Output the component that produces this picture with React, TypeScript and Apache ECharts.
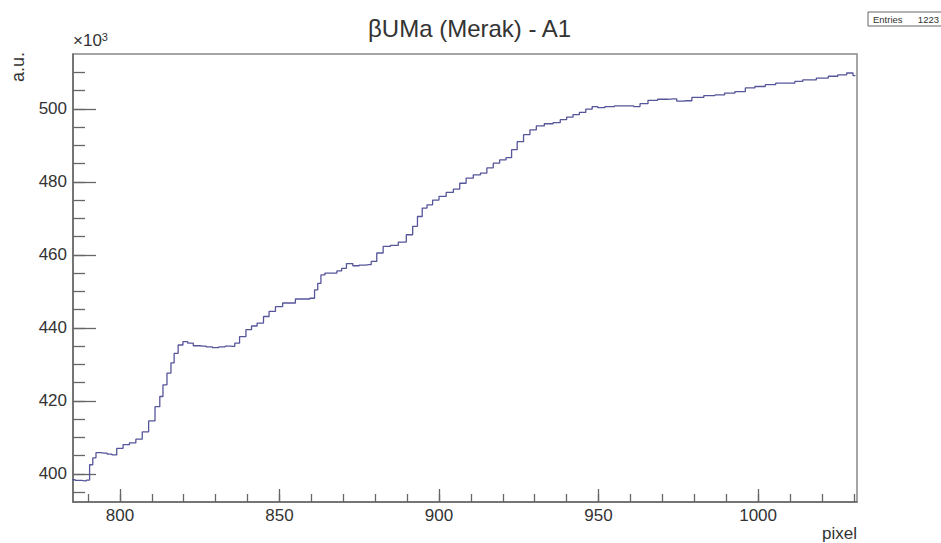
import React, { useEffect, useRef } from "react";
import * as echarts from "echarts";

// Bin positions (pixel) and counts (in units of 10^3)
const pixelX = [
  785, 787, 789, 790, 791, 792, 793, 795, 797, 798, 800, 802, 804, 806, 808, 810, 812, 813, 814, 815.5,
  816.5, 817.5, 819, 820.5, 822, 824, 826, 828, 830, 832, 834, 835.5, 836.5, 838.5, 840.5, 842, 844, 846,
  847.5, 850, 852, 854, 856, 858.5, 860.5, 861.5, 862.5, 863.5, 865, 867, 869, 870, 872, 874, 876, 878,
  879.5, 881.5, 883.5, 886, 888.5, 891, 892.5, 894, 895.5, 897, 899, 901, 903.5, 905.5, 907.5, 909.5, 912,
  914, 916, 918, 920, 922, 923.5, 925.5, 927.5, 929.5, 931.5, 934.5, 937, 939, 941, 943, 945, 947, 949,
  950.5, 953.5, 956.5, 960, 962, 964, 967, 970, 973.5, 975.5, 977.5, 981, 985, 988, 991, 994.5, 997.5,
  1000.5, 1004, 1007, 1011, 1012, 1016, 1020.5, 1023.5, 1026.5, 1029, 1030.5,
];
const countsK = [
  398.4, 398.2, 398.1, 398.3, 402.5, 404.4, 405.8, 405.7, 405.4, 405.2, 407, 408, 408.5, 409.5, 411.5, 414.5,
  418.4, 421.2, 424.4, 427.6, 430.4, 433, 435.3, 436.2, 435.8, 435.1, 435, 434.8, 434.6, 434.8, 435, 434.9,
  435.8, 437.6, 439.5, 440.5, 441.3, 443.1, 444.5, 445.8, 446.8, 446.8, 447.9, 447.9, 448.1, 450.4, 452.2,
  454.5, 455, 455, 455.6, 456.3, 457.6, 457, 457.2, 457.3, 458.2, 460.5, 462.3, 462.6, 463.5, 465.5, 467.8,
  470.5, 472.8, 473.7, 475, 476, 477.1, 478, 479.6, 481, 481.9, 482.4, 483.8, 485.1, 486, 486.6, 488.8, 491,
  492.9, 494.2, 495.3, 495.9, 496.2, 497, 497.7, 498.4, 499, 499.9, 500.6, 500.3, 500.6, 500.8, 500.8, 500.6,
  501.4, 502.3, 502.6, 502.7, 502.1, 502.2, 503.1, 503.6, 503.8, 504.3, 504.7, 505.7, 506.1, 506.6, 507, 507,
  507.5, 507.9, 508.4, 508.9, 509.3, 509.8, 509.1,
];

const xMajorTicks = [800, 850, 900, 950, 1000];
const xMinorTicks = [790, 800, 810, 820, 830, 840, 850, 860, 870, 880, 890, 900, 910, 920, 930, 940, 950, 960, 970, 980, 990, 1000, 1010, 1020, 1030];
const yMajorTicks = [400, 420, 440, 460, 480, 500];
const yMinorTicks = [395, 400, 405, 410, 415, 420, 425, 430, 435, 440, 445, 450, 455, 460, 465, 470, 475, 480, 485, 490, 495, 500, 505, 510];

const X_MIN = 785.3;
const X_MAX = 1031;
const Y_MIN = 392.3;
const Y_MAX = 515;

const FONT = "Liberation Sans, Arial, Helvetica, sans-serif";
const AXIS_COLOR = "#666";
const TEXT_COLOR = "#333";

export default function App() {
  const ref = useRef<HTMLDivElement>(null);
  useEffect(() => {
    if (!ref.current) return;
    const chart = echarts.init(ref.current, undefined, { renderer: "svg" });
    const data = pixelX.map((x, i) => [x, countsK[i]]);
    const axisLine = { show: true, lineStyle: { color: AXIS_COLOR, width: 1.5 } };
    chart.setOption({
      animation: false,
      backgroundColor: "#fff",
      title: {
        text: "βUMa (Merak) - A1",
        left: 363,
        top: 11,
        textStyle: { fontFamily: FONT, fontSize: 24, fontWeight: "normal", color: TEXT_COLOR },
      },
      grid: {
        left: 73,
        right: 84,
        top: 54,
        bottom: 41,
        show: true,
        borderColor: "#888",
        borderWidth: 1.5,
        backgroundColor: "transparent",
      },
      xAxis: [
        {
          type: "value",
          min: X_MIN,
          max: X_MAX,
          position: "bottom",
          axisLine,
          splitLine: { show: false },
          axisTick: { show: true, inside: true, length: 13, customValues: xMajorTicks, lineStyle: { color: AXIS_COLOR, width: 1.3 } },
          axisLabel: {
            show: true,
            customValues: xMajorTicks,
            formatter: (v: number) => String(v),
            margin: 5,
            fontFamily: FONT,
            fontSize: 17,
            color: TEXT_COLOR,
          },
          name: "pixel",
          nameLocation: "end",
          nameGap: 0,
          nameTextStyle: {
            fontFamily: FONT,
            fontSize: 17,
            color: TEXT_COLOR,
            align: "right",
            verticalAlign: "top",
            padding: [23, 0, 0, 0],
          },
        },
        {
          type: "value",
          min: X_MIN,
          max: X_MAX,
          position: "bottom",
          gridIndex: 0,
          axisLine: { show: false },
          splitLine: { show: false },
          axisLabel: { show: false },
          axisTick: { show: true, inside: true, length: 8, customValues: xMinorTicks, lineStyle: { color: AXIS_COLOR, width: 1.3 } },
        },
      ],
      yAxis: [
        {
          type: "value",
          min: Y_MIN,
          max: Y_MAX,
          position: "left",
          axisLine,
          splitLine: { show: false },
          axisTick: { show: true, inside: true, length: 23, customValues: yMajorTicks, lineStyle: { color: AXIS_COLOR, width: 1.3 } },
          axisLabel: {
            show: true,
            customValues: yMajorTicks,
            formatter: (v: number) => String(v),
            margin: 6,
            fontFamily: FONT,
            fontSize: 17,
            color: TEXT_COLOR,
          },
        },
        {
          type: "value",
          min: Y_MIN,
          max: Y_MAX,
          position: "left",
          gridIndex: 0,
          axisLine: { show: false },
          splitLine: { show: false },
          axisLabel: { show: false },
          axisTick: { show: true, inside: true, length: 12, customValues: yMinorTicks, lineStyle: { color: AXIS_COLOR, width: 1.3 } },
        },
      ],
      series: [
        {
          type: "line",
          xAxisIndex: 0,
          yAxisIndex: 0,
          data,
          step: "middle",
          symbol: "none",
          lineStyle: { color: "#55559a", width: 1.3 },
          z: 5,
        },
      ],
      graphic: [
        {
          type: "text",
          left: 73,
          top: 31,
          style: {
            text: "×10{sup|3}",
            fontFamily: FONT,
            fontSize: 17,
            fill: TEXT_COLOR,
            rich: { sup: { fontSize: 11, verticalAlign: "top", padding: [0, 0, 8, 0], fontFamily: FONT, fill: TEXT_COLOR } },
          },
        },
        {
          type: "text",
          x: 18,
          y: 52,
          rotation: Math.PI / 2,
          style: {
            text: "a.u.",
            fontFamily: FONT,
            fontSize: 18,
            fill: TEXT_COLOR,
            align: "right",
            verticalAlign: "middle",
          },
        },
        {
          type: "rect",
          shape: { x: 868, y: 12, width: 80, height: 14 },
          style: { fill: "#fff", stroke: "#666", lineWidth: 1 },
        },
        {
          type: "text",
          x: 873,
          y: 19,
          style: { text: "Entries", fontFamily: FONT, fontSize: 9.5, fill: TEXT_COLOR, verticalAlign: "middle" },
        },
        {
          type: "text",
          x: 939,
          y: 19,
          style: { text: "1223", fontFamily: FONT, fontSize: 9.5, fill: TEXT_COLOR, align: "right", verticalAlign: "middle" },
        },
      ],
    });
    return () => chart.dispose();
  }, []);
  return <div ref={ref} style={{ position: "fixed", left: 0, top: 0, width: 941, height: 543, background: "#fff" }} />;
}
